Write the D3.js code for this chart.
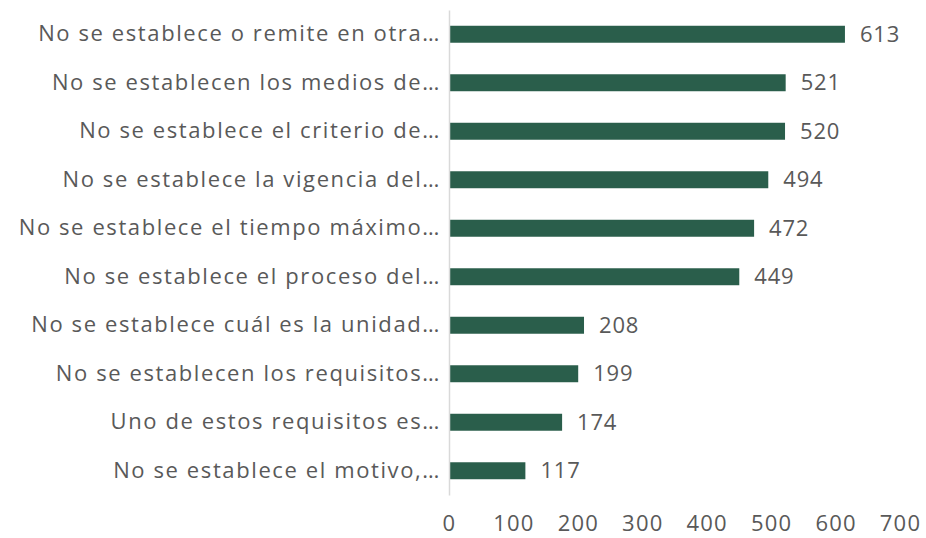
<!DOCTYPE html>
<html>
<head>
<meta charset="utf-8">
<script src="https://cdn.jsdelivr.net/npm/d3@7"></script>
<style>
  body { margin: 0; background: #fff; }
  text { font-family: "Open Sans", sans-serif; fill: #595959; }
</style>
</head>
<body>
<div id="chart"></div>
<script>
'use strict';

var categories = [
  'No se establece o remite en otra…',
  'No se establecen los medios de…',
  'No se establece el criterio de…',
  'No se establece la vigencia del…',
  'No se establece el tiempo máximo…',
  'No se establece el proceso del…',
  'No se establece cuál es la unidad…',
  'No se establecen los requisitos…',
  'Uno de estos requisitos es…',
  'No se establece el motivo,…'
];
var values = [613, 521, 520, 494, 472, 449, 208, 199, 174, 117];
var ticks = [0, 100, 200, 300, 400, 500, 600, 700];

var width = 926, height = 538;
var margin = { top: 10, right: 26, bottom: 43, left: 449 };
var innerW = width - margin.left - margin.right;
var innerH = height - margin.top - margin.bottom;

var svg = d3.select('#chart').append('svg')
  .attr('width', width).attr('height', height);
var g = svg.append('g')
  .attr('transform', 'translate(' + margin.left + ',' + margin.top + ')');

var x = d3.scaleLinear().domain([0, 700]).range([0, innerW]);
var y = d3.scaleBand().domain(categories).range([0, innerH]).paddingInner(0.65).paddingOuter(0.325);

// bars
g.selectAll('.bar').data(values).enter().append('rect')
  .attr('class', 'bar')
  .attr('x', 1)
  .attr('y', function (d, i) { return y(categories[i]); })
  .attr('width', function (d) { return x(d); })
  .attr('height', y.bandwidth())
  .attr('fill', '#2a5e4b');

// value labels
g.selectAll('.val').data(values).enter().append('text')
  .attr('class', 'val')
  .attr('x', function (d) { return x(d) + 16; })
  .attr('y', function (d, i) { return y(categories[i]) + y.bandwidth() / 2; })
  .attr('dy', '0.35em')
  .style('font-size', '22px')
  .style('letter-spacing', '0.8px')
  .text(function (d) { return d; });

// category axis
var yAxis = g.append('g').call(d3.axisLeft(y).tickSize(0).tickPadding(8));
yAxis.select('.domain').attr('stroke', '#d9d9d9').attr('stroke-width', 1.5);
yAxis.selectAll('text')
  .style('font-size', '22px')
  .style('letter-spacing', '1.6px')
  .style('fill', '#595959');

// value axis
var xAxis = g.append('g')
  .attr('transform', 'translate(0,' + (innerH + 20) + ')')
  .call(d3.axisBottom(x).tickValues(ticks).tickSize(0).tickPadding(0));
xAxis.select('.domain').remove();
xAxis.selectAll('text')
  .style('font-size', '22px')
  .style('letter-spacing', '1.2px')
  .style('fill', '#595959');
</script>
</body>
</html>
